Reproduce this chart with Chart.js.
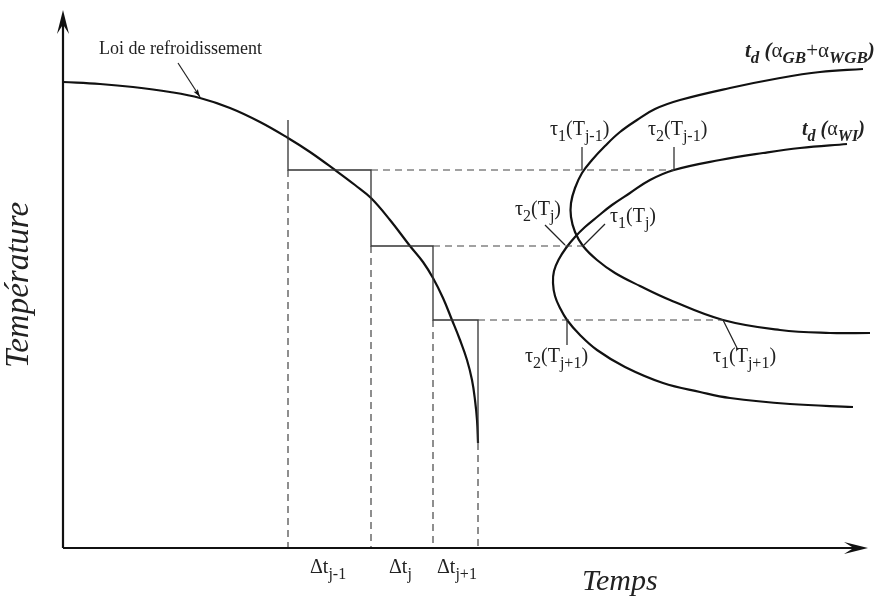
<!DOCTYPE html>
<html><head><meta charset="utf-8">
<script src="https://cdn.jsdelivr.net/npm/chart.js@4/dist/chart.umd.min.js"></script>
<style>html,body{margin:0;padding:0;background:#fff}canvas{display:block}</style>
</head><body>
<canvas id="c" width="883" height="601"></canvas>
<script>
// Schematic units: x = time, y = temperature (arbitrary units)
const coolingCurve = [[0,466],[37,464],[70,461],[107,456],[137,450],[167,440],[197,426],[225,410],[247,396],[272,378],[292,363],[308,350],[327,328],[347,302],[360,286],[370,270],[380,250],[389,228],[397,208],[404,188],[409,168],[412,148],[414,128],[415,105]];
const curveGB_WGB = [[800,479],[757,476],[717,470],[667,460],[617,448],[592,439],[574,428],[557,416],[542,402],[529,388],[519,375],[512,360],[508,345],[508,331],[512,316],[520,302],[534,288],[552,275],[577,262],[607,248],[660,228],[717,218],[767,215],[807,215]];
const curveWI = [[784,404],[737,400],[700,395],[657,388],[611,378],[587,368],[567,355],[549,343],[534,331],[522,321],[512,311],[503,300],[496,289],[491,277],[490,265],[492,252],[497,240],[504,228],[517,213],[534,198],[562,181],[600,165],[637,156],[667,150],[727,144],[790,141]];
const stepPath = [[225,428],[225,378],[308,378],[308,302],[370,302],[370,228],[415,228],[415,105]];
const dashedGuides = [
  [[225,378],[225,0]],[[308,302],[308,0]],[[370,228],[370,0]],[[415,105],[415,0]],
  [[308,378],[611,378]],[[370,302],[520,302]],[[415,228],[660,228]]
];
const leaderLines = [
  [[519,401],[519,378]],[[611,401],[611,378]],
  [[482,323],[502,303]],[[542,324],[520,302]],
  [[504,228],[504,203]],[[660,228],[675,198]]
];
const coolingArrow = [[115,485],[137,451]];

// labels: parts [text, 's' for subscript, font style]
const labelTexts = {
  loi: [['Loi de refroidissement']],
  t1jm1: [['τ'],['1','s'],['(T'],['j-1','s'],[')']],
  t2jm1: [['τ'],['2','s'],['(T'],['j-1','s'],[')']],
  t2j: [['τ'],['2','s'],['(T'],['j','s'],[')']],
  t1j: [['τ'],['1','s'],['(T'],['j','s'],[')']],
  t2jp1: [['τ'],['2','s'],['(T'],['j+1','s'],[')']],
  t1jp1: [['τ'],['1','s'],['(T'],['j+1','s'],[')']],
  dtjm1: [['Δt'],['j-1','s']],
  dtj: [['Δt'],['j','s']],
  dtjp1: [['Δt'],['j+1','s']],
  gb: [['t','',"italic bold"],['d','s',"italic bold"],[' (','',"italic bold"],['α','',''],['GB','s',"italic bold"],['+','',''],['α','',''],['WGB','s',"italic bold"],[')','',"italic bold"]],
  wi: [['t','',"italic bold"],['d','s',"italic bold"],[' (','',"italic bold"],['α','',''],['WI','s',"italic bold"],[')','',"italic bold"]],
  xTitle: 'Temps',
  yTitle: 'Température'
};
const labelAnchors = {
  loi:[36,494,18,18], t1jm1:[487,413,20,16], t2jm1:[585,413,20,16],
  t2j:[452,333,20,16], t1j:[547,326,20,16], t2jp1:[462,186,20,16], t1jp1:[650,186,20,16],
  dtjm1:[247,-25,20,16], dtj:[326,-25,20,16], dtjp1:[374,-25,20,16],
  gb:[682,491,21,17], wi:[739,413,20,16]
};

const segDs = (pts, color, width, dash) => ({
  data: pts.map(p => ({x:p[0], y:p[1]})), showLine:true, pointRadius:0,
  borderColor:color, borderWidth:width, borderDash:dash||[], tension:0, fill:false
});
const datasets = [];
dashedGuides.forEach(s => datasets.push(segDs(s,'#444',1.2,[7,5])));
leaderLines.forEach(s => datasets.push(segDs(s,'#222',1.2)));
datasets.push(segDs(coolingArrow,'#222',1.2));
datasets.push(segDs(stepPath,'#333',1.3));
datasets.push(Object.assign(segDs(coolingCurve,'#111',2.2),{tension:0.4}));
datasets.push(Object.assign(segDs(curveGB_WGB,'#111',2.2),{tension:0.4}));
datasets.push(Object.assign(segDs(curveWI,'#111',2.2),{tension:0.4}));

const FONT = '"Liberation Serif", "Times New Roman", serif';
function drawRich(ctx, x, y, parts, size, subSize) {
  let cx = x;
  for (const p of parts) {
    const sub = p[1] === 's';
    const fs = sub ? subSize : size;
    ctx.font = `${p[2]||''} ${fs}px ${FONT}`;
    ctx.fillText(p[0], cx, sub ? y + size*0.3 : y);
    cx += ctx.measureText(p[0]).width;
  }
}
function arrowHead(ctx, tx, ty, ang, len, half, notch) {
  ctx.save(); ctx.translate(tx,ty); ctx.rotate(ang);
  ctx.beginPath(); ctx.moveTo(0,0); ctx.lineTo(-len,-half); ctx.lineTo(-len*notch,0); ctx.lineTo(-len,half); ctx.closePath();
  ctx.fill(); ctx.restore();
}
const decor = {
  id:'decor',
  afterDatasetsDraw(chart) {
    const ctx = chart.ctx, xs = chart.scales.x, ys = chart.scales.y;
    const X = v => xs.getPixelForValue(v), Y = v => ys.getPixelForValue(v);
    ctx.save();
    ctx.strokeStyle = '#111'; ctx.fillStyle = '#111'; ctx.lineWidth = 2.2;
    ctx.beginPath(); ctx.moveTo(X(0), Y(0)); ctx.lineTo(X(0), Y(530)); ctx.stroke();
    ctx.beginPath(); ctx.moveTo(X(0), Y(0)); ctx.lineTo(X(795), Y(0)); ctx.stroke();
    arrowHead(ctx, X(0), Y(538), -Math.PI/2, 24, 6, 0.6);
    arrowHead(ctx, X(805), Y(0), 0, 24, 6, 0.6);
    const a0 = coolingArrow[0], a1 = coolingArrow[1];
    const ang = Math.atan2(Y(a1[1])-Y(a0[1]), X(a1[0])-X(a0[0]));
    arrowHead(ctx, X(a1[0]), Y(a1[1]), ang, 8, 2.5, 0.8);
    ctx.textBaseline = 'alphabetic'; ctx.textAlign = 'left'; ctx.fillStyle = '#222';
    for (const k in labelAnchors) {
      const a = labelAnchors[k];
      drawRich(ctx, X(a[0]), Y(a[1]), labelTexts[k], a[2], a[3]);
    }
    ctx.font = `italic 30px ${FONT}`;
    ctx.fillText(labelTexts.xTitle, X(519), Y(-42));
    ctx.translate(X(-35), Y(263)); ctx.rotate(-Math.PI/2);
    ctx.textAlign = 'center';
    ctx.font = `italic 33px ${FONT}`;
    ctx.fillText(labelTexts.yTitle, 0, 0);
    ctx.restore();
  }
};
new Chart(document.getElementById('c'), {
  type:'scatter',
  data:{datasets},
  options:{
    responsive:false, devicePixelRatio:1, animation:false,
    layout:{padding:{left:63, top:0, right:0, bottom:53}},
    plugins:{legend:{display:false}, tooltip:{enabled:false}},
    scales:{
      x:{type:'linear', min:0, max:820, display:false},
      y:{type:'linear', min:0, max:548, display:false}
    }
  },
  plugins:[decor]
});
</script>
</body></html>
